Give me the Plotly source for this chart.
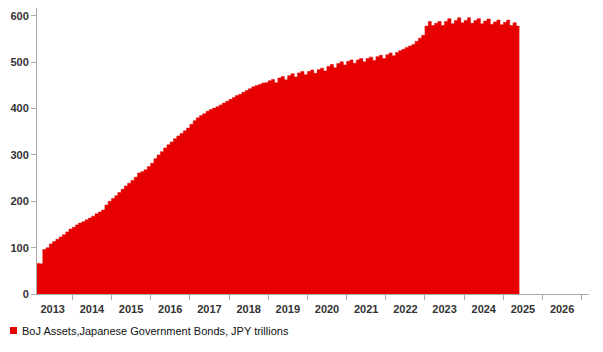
import pandas as pd
import plotly.graph_objects as go

# Monthly readings (JPY trillions), Feb 2013 .. May 2025
dates = list(pd.date_range("2013-02-01", "2025-05-01", freq="MS").strftime("%Y-%m-%d")) + ["2025-05-30"]
values = [
    # 2013 Feb..Dec
    66, 65, 96, 100, 108, 113, 118, 123, 128, 134, 140,
    # 2014
    144, 149, 153, 156, 160, 164, 168, 173, 177, 181, 192, 200,
    # 2015
    206, 212, 219, 226, 233, 239, 245, 252, 261, 264, 268, 275,
    # 2016
    282, 292, 300, 307, 315, 322, 328, 335, 341, 346, 352, 358,
    # 2017
    366, 374, 380, 385, 389, 394, 398, 401, 404, 408, 412, 416,
    # 2018
    420, 424, 428, 431, 435, 439, 443, 447, 450, 452, 455, 456,
    # 2019
    460, 463, 456, 466, 469, 462, 471, 475, 468, 477, 480, 473,
    # 2020
    480, 483, 476, 484, 487, 481, 491, 495, 488, 497, 501, 494,
    # 2021
    502, 505, 498, 505, 508, 501, 508, 511, 504, 512, 515, 508,
    # 2022
    516, 520, 514, 521, 525, 528, 532, 535, 538, 545, 552, 558,
    # 2023
    578, 588, 579, 584, 588, 579, 588, 594, 583, 590, 596, 585,
    # 2024
    590, 596, 584, 590, 594, 583, 589, 593, 582, 587, 591, 581,
    # 2025 Jan..May, end
    586, 591, 579, 585, 578, 578,
]

series_name = "BoJ Assets,Japanese Government Bonds, JPY trillions"
red = "#e60000"
axis_grey = "#aaaaaa"

fig = go.Figure()
fig.add_trace(go.Scatter(
    x=dates, y=values, mode="lines", line=dict(color=red, width=0.5, shape="hv"),
    fill="tozeroy", fillcolor=red, showlegend=False, hoverinfo="x+y",
))

W, H = 603, 352
ml, mr, mt, mb = 37, 14, 8, 58
pw, ph = W - ml - mr, H - mt - mb

def px(x):
    return (x - ml) / pw

def py(y):
    return (H - mb - y) / ph

fig.update_layout(
    width=W, height=H,
    margin=dict(l=ml, r=mr, t=mt, b=mb),
    paper_bgcolor="white", plot_bgcolor="white",
    font=dict(family="Liberation Sans, Arial, sans-serif", size=11, color="#333333"),
    xaxis=dict(
        type="date", range=["2013-02-06", "2027-03-10"],
        tick0="2013-01-01", dtick="M12", tickformat="%Y", ticklabelmode="period",
        ticks="outside", ticklen=5, tickcolor=axis_grey, showline=True, linecolor=axis_grey,
        linewidth=1, showgrid=False, zeroline=False,
        tickfont=dict(size=11, color="#333333", weight="bold"),
    ),
    yaxis=dict(
        range=[0, 617], tick0=0, dtick=100,
        ticks="outside", ticklen=5, tickcolor=axis_grey, showline=True, linecolor=axis_grey,
        linewidth=1, showgrid=False, zeroline=False,
        tickfont=dict(size=11, color="#333333", weight="bold"),
    ),
    showlegend=False,
    shapes=[dict(type="rect", xref="paper", yref="paper",
                 x0=px(10), x1=px(17), y0=py(334), y1=py(327),
                 fillcolor=red, line=dict(width=0))],
    annotations=[dict(text=series_name, xref="paper", yref="paper",
                      x=px(19.5), y=py(331), xanchor="left", yanchor="middle",
                      showarrow=False, font=dict(size=11, color="#111111"))],
)

fig.write_html("out.html")
